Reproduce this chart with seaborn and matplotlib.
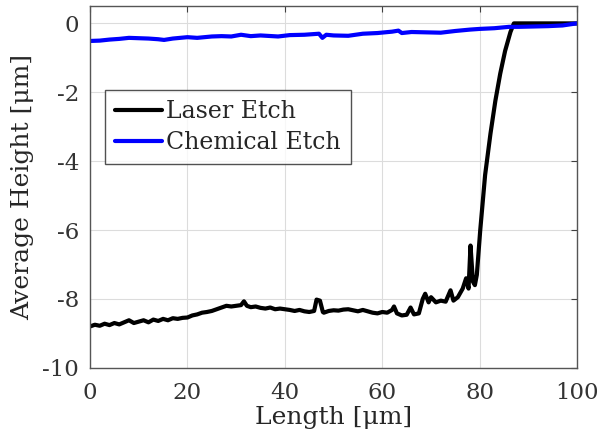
import numpy as np
import pandas as pd
import matplotlib
matplotlib.use("Agg")
import matplotlib.pyplot as plt
import seaborn as sns

laser_x = [0, 1, 2, 3, 4, 5, 6, 7, 8, 9, 10, 11, 12, 13, 14, 15, 16, 17, 18, 19, 20,
           21, 22, 23, 24, 25, 26, 27, 28, 29, 30, 31, 31.6, 32.2, 33, 34, 35, 36, 37, 38, 39,
           40, 41, 42, 43, 44, 45, 46, 46.5, 47.2, 47.8, 48, 49, 50, 51, 52, 53, 54, 55, 56,
           57, 58, 59, 60, 61, 62, 62.4, 63, 64, 65, 65.8, 66.5, 67.5, 68.3, 68.8, 69.5, 70,
           71, 72, 73, 74, 74.6, 75.5, 76.5, 77.2, 77.7, 78.1, 78.6, 79.0, 79.4, 80.1, 81.1,
           82.2, 83.2, 84.2, 85.2, 86.3, 87, 90, 95, 100]
laser_y = [-8.80, -8.75, -8.78, -8.72, -8.76, -8.70, -8.74, -8.68, -8.62, -8.70, -8.66,
           -8.62, -8.68, -8.60, -8.64, -8.58, -8.62, -8.56, -8.58, -8.55, -8.54, -8.48, -8.45,
           -8.40, -8.38, -8.35, -8.30, -8.25, -8.20, -8.22, -8.20, -8.18, -8.07, -8.20, -8.24,
           -8.22, -8.26, -8.28, -8.25, -8.30, -8.28, -8.30, -8.32, -8.35, -8.32, -8.36, -8.38,
           -8.35, -8.02, -8.05, -8.38, -8.40, -8.35, -8.33, -8.34, -8.31, -8.30, -8.33, -8.36,
           -8.32, -8.36, -8.40, -8.42, -8.38, -8.40, -8.32, -8.22, -8.42, -8.48, -8.46, -8.25,
           -8.45, -8.42, -8.00, -7.85, -8.10, -7.95, -8.10, -8.05, -8.08, -7.75, -8.05, -7.95,
           -7.70, -7.40, -7.70, -6.45, -7.50, -7.60, -7.30, -6.00, -4.40, -3.20, -2.25, -1.46,
           -0.80, -0.25, 0.0, 0.0, 0.0, 0.0]

chem_x = [0, 2, 4, 6, 8, 10, 12, 14, 15.2, 17, 20, 22, 25, 27, 29, 31, 33, 35, 38.6, 41,
          44, 47, 47.7, 48.5, 50, 53, 56, 59, 62, 63.3, 64, 66, 69, 72, 75, 78, 80, 83, 86,
          88, 91, 94, 97, 99.4, 100]
chem_y = [-0.51, -0.50, -0.47, -0.45, -0.42, -0.43, -0.44, -0.46, -0.48, -0.44, -0.40,
          -0.42, -0.38, -0.37, -0.38, -0.33, -0.37, -0.35, -0.38, -0.34, -0.33, -0.30, -0.42,
          -0.33, -0.35, -0.36, -0.30, -0.28, -0.24, -0.21, -0.28, -0.25, -0.26, -0.27, -0.22,
          -0.18, -0.16, -0.14, -0.10, -0.10, -0.09, -0.08, -0.06, -0.01, 0.0]

series_names = ["Laser Etch", "Chemical Etch"]
x_ticks = [0, 20, 40, 60, 80, 100]
y_ticks = [-10, -8, -6, -4, -2, 0]

df = pd.concat([
    pd.DataFrame({"x": laser_x, "y": laser_y, "s": series_names[0]}),
    pd.DataFrame({"x": chem_x, "y": chem_y, "s": series_names[1]}),
], ignore_index=True)

sns.set_style("white")
plt.rcParams['font.family'] = ['DejaVu Serif']
plt.rcParams['mathtext.fontset'] = 'dejavuserif'

fig = plt.figure(figsize=(6, 4.41), dpi=100)
ax = fig.add_axes([0.150, 0.166, 0.812, 0.820])

sns.lineplot(data=df, x="x", y="y", hue="s", palette=["black", "#0000ff"],
             sort=False, estimator=None, ax=ax, linewidth=3.0)

ax.set_xlim(0, 100)
ax.set_ylim(-10, 0.5)
ax.set_xticks(x_ticks)
ax.set_yticks(y_ticks)
ax.set_xticklabels([str(v) for v in x_ticks])
ax.set_yticklabels([str(v) for v in y_ticks])
ax.grid(True, color="#dcdcdc", linewidth=0.8)
ax.tick_params(direction="in", top=True, right=True, length=4, color="#404040",
               labelsize=16.5, labelcolor="#333333")
ax.tick_params(axis="x", pad=10)
ax.tick_params(axis="y", pad=8)
for sp in ax.spines.values():
    sp.set_color("#555555")
    sp.set_linewidth(1.0)
ax.set_xlabel("Length [μm]", fontsize=18, color="#262626", labelpad=2)
ax.set_ylabel("Average Height [μm]", fontsize=18, color="#262626", labelpad=6)

leg = ax.legend(loc="upper left", bbox_to_anchor=(0.031, 0.767), fontsize=17,
                frameon=True, fancybox=False, edgecolor="#262626",
                handlelength=2.0, handletextpad=0.2, borderpad=0.4, labelspacing=0.35,
                borderaxespad=0)
leg.get_frame().set_linewidth(1.0)
for line in leg.get_lines():
    line.set_linewidth(3)

fig.savefig("out.png", dpi=100)
